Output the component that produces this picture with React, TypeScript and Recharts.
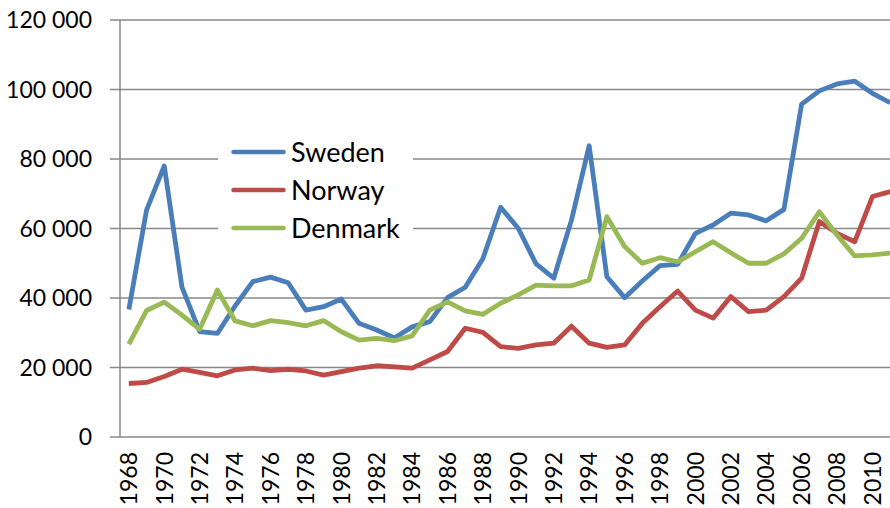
import React from 'react';
import { LineChart, Line, XAxis, YAxis, CartesianGrid, Legend } from 'recharts';

const years = [
  1968, 1969, 1970, 1971, 1972, 1973, 1974, 1975, 1976, 1977, 1978, 1979,
  1980, 1981, 1982, 1983, 1984, 1985, 1986, 1987, 1988, 1989, 1990, 1991,
  1992, 1993, 1994, 1995, 1996, 1997, 1998, 1999, 2000, 2001, 2002, 2003,
  2004, 2005, 2006, 2007, 2008, 2009, 2010, 2011,
];

const sweden = [
  36700, 65300, 78000, 43100, 30300, 29800, 37700, 44700, 46000, 44400, 36500, 37500,
  39700, 32700, 30800, 28500, 31700, 33200, 40100, 43100, 51400, 66100, 60000, 49800,
  45700, 62400, 83800, 46100, 40100, 44900, 49300, 49700, 58600, 61000, 64400, 63900,
  62200, 65500, 95800, 99600, 101600, 102400, 98900, 96200,
];

const norway = [
  15400, 15700, 17400, 19500, 18600, 17600, 19300, 19800, 19100, 19500, 19000, 17800,
  18800, 19800, 20500, 20200, 19800, 22200, 24600, 31300, 30100, 26000, 25500, 26500,
  27000, 31900, 27000, 25800, 26500, 32700, 37500, 42000, 36500, 34200, 40400, 36100,
  36500, 40400, 45700, 62000, 58600, 56200, 69200, 70600,
];

const denmark = [
  26700, 36400, 38800, 35100, 31000, 42300, 33400, 32000, 33500, 32900, 32000, 33500,
  30300, 27900, 28400, 27700, 29100, 36500, 38900, 36300, 35300, 38500, 40900, 43700,
  43500, 43500, 45200, 63400, 54800, 50000, 51600, 50400, 53300, 56200, 53000, 50000,
  50000, 52700, 57200, 64800, 58100, 52100, 52400, 52900,
];

const seriesOrder = ['Sweden', 'Norway', 'Denmark'];

const yTicks = [0, 20000, 40000, 60000, 80000, 100000, 120000];
const labelYears = [
  1968, 1970, 1972, 1974, 1976, 1978, 1980, 1982, 1984, 1986, 1988,
  1990, 1992, 1994, 1996, 1998, 2000, 2002, 2004, 2006, 2008, 2010,
];
const bandTicks = [...years.map((y) => y - 0.5), years[years.length - 1] + 0.5];

const data = years.map((year, i) => ({
  year,
  Sweden: sweden[i],
  Norway: norway[i],
  Denmark: denmark[i],
}));

const FONT = 'Lato, "Open Sans", sans-serif';
const GRAY = '#888888';

const fmt = (v: number) => String(v).replace(/\B(?=(\d{3})+(?!\d))/g, ' ');

const YearTick = (props: any) => {
  const { x, y, payload } = props;
  return (
    <g transform={`translate(${x},${y})`}>
      <text
        transform="rotate(-90)"
        textAnchor="end"
        x={0}
        y={0}
        dy="0.36em"
        fontSize={23}
        fontFamily={FONT}
        fill="#000"
      >
        {payload.value}
      </text>
    </g>
  );
};

const LegendContent = (props: any) => {
  const payload = [...(props.payload || [])].sort(
    (a: any, b: any) => seriesOrder.indexOf(a.value) - seriesOrder.indexOf(b.value)
  );
  return (
    <div style={{ paddingLeft: 13 }}>
      {payload.map((entry: any) => (
        <div
          key={entry.value}
          style={{ display: 'flex', alignItems: 'center', height: 38 }}
        >
          <svg width={55} height={10} style={{ display: 'block' }}>
            <line
              x1={2.5}
              y1={5}
              x2={52.5}
              y2={5}
              stroke={entry.color}
              strokeWidth={4.5}
              strokeLinecap="round"
            />
          </svg>
          <span
            style={{
              marginLeft: 5,
              fontFamily: FONT,
              fontSize: 27,
              color: '#000',
              lineHeight: '38px',
            }}
          >
            {entry.value}
          </span>
        </div>
      ))}
    </div>
  );
};

export default function App() {
  return (
    <div
      style={{
        position: 'absolute',
        left: 0,
        top: 0,
        width: 890,
        height: 508,
        overflow: 'hidden',
        background: '#fff',
      }}
    >
      <LineChart
        width={900}
        height={508}
        data={data}
        margin={{ top: 20, right: 1, left: 0, bottom: 0 }}
      >
        <CartesianGrid
          xAxisId="main"
          vertical={false}
          stroke={GRAY}
          strokeWidth={1.5}
        />
        <XAxis
          xAxisId="band"
          type="number"
          dataKey="year"
          domain={[1967.5, 2011.5]}
          ticks={bandTicks}
          tick={false}
          tickSize={7}
          height={0}
          axisLine={{ stroke: GRAY, strokeWidth: 1.5 }}
          tickLine={{ stroke: GRAY, strokeWidth: 1.5 }}
          allowDataOverflow
        />
        <XAxis
          xAxisId="main"
          type="number"
          dataKey="year"
          domain={[1967.5, 2011.5]}
          ticks={labelYears}
          interval={0}
          tick={<YearTick />}
          tickSize={0}
          tickMargin={15}
          height={71}
          axisLine={false}
          tickLine={false}
          allowDataOverflow
        />
        <YAxis
          domain={[0, 120000]}
          ticks={yTicks}
          tickFormatter={fmt}
          width={120}
          tickSize={10}
          tickMargin={18}
          axisLine={{ stroke: GRAY, strokeWidth: 1.5 }}
          tickLine={{ stroke: GRAY, strokeWidth: 1.5 }}
          tick={{ fontSize: 23, fontFamily: FONT, fill: '#000' }}
        />
        <Legend
          layout="vertical"
          align="center"
          verticalAlign="middle"
          content={<LegendContent />}
          wrapperStyle={{
            position: 'absolute',
            left: 218,
            top: 133,
            width: 195,
            height: 114,
            background: '#fff',
          }}
        />
        <Line
          xAxisId="main"
          type="linear"
          dataKey="Sweden"
          stroke="#4A7EBB"
          strokeWidth={4.8}
          dot={false}
          strokeLinejoin="round"
          isAnimationActive={false}
        />
        <Line
          xAxisId="main"
          type="linear"
          dataKey="Norway"
          stroke="#BE4B48"
          strokeWidth={4.8}
          dot={false}
          strokeLinejoin="round"
          isAnimationActive={false}
        />
        <Line
          xAxisId="main"
          type="linear"
          dataKey="Denmark"
          stroke="#98B954"
          strokeWidth={4.8}
          dot={false}
          strokeLinejoin="round"
          isAnimationActive={false}
        />
      </LineChart>
    </div>
  );
}
